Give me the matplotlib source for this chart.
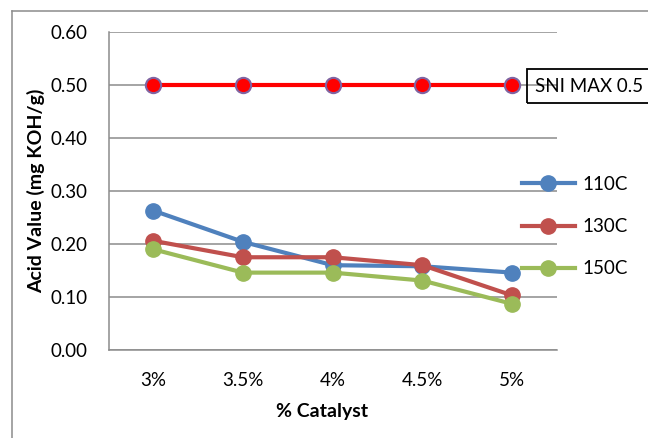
import matplotlib
matplotlib.use("Agg")
import matplotlib.pyplot as plt
from matplotlib.lines import Line2D
from matplotlib.patches import Rectangle

plt.rcParams['font.family'] = ['Lato', 'DejaVu Sans']

# Data
categories = ['3%', '3.5%', '4%', '4.5%', '5%']
acid_110 = [0.263, 0.204, 0.160, 0.158, 0.146]
acid_130 = [0.206, 0.175, 0.175, 0.160, 0.103]
acid_150 = [0.190, 0.146, 0.146, 0.131, 0.087]
sni_max = [0.50, 0.50, 0.50, 0.50, 0.50]
yticks = [0.0, 0.1, 0.2, 0.3, 0.4, 0.5, 0.6]

W, H = 648, 438
fig = plt.figure(figsize=(W / 100, H / 100), dpi=100)
ax = fig.add_axes([108.5 / W, 1 - 350 / H, (557 - 108.5) / W, (350 - 32) / H])

grid_c = '#8c8c8c'
x = list(range(len(categories)))

ax.set_xlim(-0.5, len(categories) - 0.5)
ax.set_ylim(0, 0.6)
ax.set_yticks(yticks)
ax.set_yticklabels([f'{v:.2f}' for v in yticks])
ax.set_xticks(x)
ax.set_xticklabels(categories)
ax.yaxis.grid(True, color=grid_c, linewidth=1.1)
ax.set_axisbelow(True)
for s in ['top', 'right']:
    ax.spines[s].set_visible(False)
for s in ['left', 'bottom']:
    ax.spines[s].set_color(grid_c)
    ax.spines[s].set_linewidth(1.1)
ax.tick_params(axis='both', length=0, labelsize=13.5, colors='black')
ax.tick_params(axis='y', pad=15)
ax.tick_params(axis='x', pad=16)

ax.set_xlabel('% Catalyst', fontsize=14, fontweight='bold')
ax.xaxis.set_label_coords(0.476, -0.168)
ax.set_ylabel('Acid Value (mg KOH/g)', fontsize=14, fontweight='bold')
ax.yaxis.set_label_coords(-0.141, 0.5)

# SNI limit line
ax.plot(x, sni_max, color='#ff0000', linewidth=3, marker='o', markersize=11,
        markerfacecolor='#ff0000', markeredgecolor='#8064a2', markeredgewidth=1.5,
        zorder=3, clip_on=False)

series = [(acid_110, '#4f81bd', '110C'),
          (acid_130, '#c0504d', '130C'),
          (acid_150, '#9bbb59', '150C')]
handles = []
for vals, col, lab in series:
    h, = ax.plot(x, vals, color=col, linewidth=3, marker='o', markersize=11,
                 markerfacecolor=col, markeredgecolor=col, zorder=4, clip_on=False,
                 label=lab)
    handles.append(h)

leg = fig.legend(handles=handles, loc='upper left',
                 bbox_to_anchor=(522 / W, 1 - 176 / H), frameon=False,
                 fontsize=13.5, handlelength=2.8, handletextpad=0.4,
                 labelspacing=1.34, borderpad=0, borderaxespad=0)

# SNI legend box
fig.add_artist(Rectangle((527 / W, 1 - 103 / H), 140 / W, 34 / H,
                         transform=fig.transFigure, facecolor='none',
                         edgecolor='black', linewidth=1.3, zorder=5))
fig.text(535 / W, 1 - 86 / H, 'SNI MAX 0.5', fontsize=13.5, va='center',
         ha='left', zorder=6)

# chart area border
fig.add_artist(Line2D([11.5 / W, 11.5 / W], [0, 1 - 10.5 / H],
                      transform=fig.transFigure, color=grid_c, linewidth=1.1))
fig.add_artist(Line2D([11.5 / W, 1], [1 - 10.5 / H, 1 - 10.5 / H],
                      transform=fig.transFigure, color=grid_c, linewidth=1.1))

fig.savefig('out.png', dpi=100)
